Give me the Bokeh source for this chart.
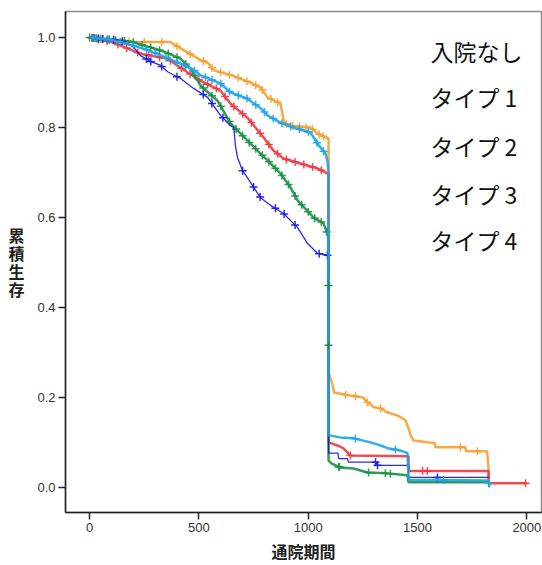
import numpy as np
from bokeh.plotting import figure
from bokeh.models import Range1d, FixedTicker, PrintfTickFormatter, Label
from bokeh.embed import file_html
from bokeh.resources import INLINE

# ---------------- data ----------------
series_names = ["入院なし", "タイプ 1", "タイプ 2", "タイプ 3", "タイプ 4"]

orange_t = [0, 120, 200, 370, 420, 448, 508, 540, 570, 650, 736, 782, 814, 873, 890, 919,
            1010, 1043, 1088, 1093, 1093, 1111, 1118, 1190, 1250, 1271, 1300, 1330, 1360,
            1408, 1445, 1459, 1468, 1482, 1545, 1580, 1582, 1719, 1722, 1818, 1825, 1828]
orange_s = [1.0, 0.995, 0.99, 0.99, 0.975, 0.967, 0.95, 0.944, 0.927, 0.916, 0.9, 0.889,
            0.867, 0.853, 0.811, 0.804, 0.8, 0.787, 0.776, 0.776, 0.255, 0.23, 0.211, 0.204,
            0.2, 0.189, 0.178, 0.176, 0.167, 0.16, 0.149, 0.131, 0.116, 0.104, 0.1, 0.098,
            0.089, 0.089, 0.08, 0.08, 0.04, 0.004]
orange_cens = [30, 60, 110, 150, 180, 250, 330, 400, 460, 520, 560, 600, 640, 680, 720, 760,
               790, 830, 860, 900, 930, 960, 990, 1020, 1050, 1070, 1171, 1216, 1271, 1331,
               1696, 1774]

lblue_t = [0, 100, 180, 250, 330, 360, 416, 470, 508, 599, 645, 722, 790, 814, 873, 932,
           1010, 1043, 1079, 1088, 1093, 1093, 1145, 1207, 1285, 1331, 1363, 1420, 1454,
           1459, 1825, 1828]
lblue_s = [1.0, 0.995, 0.985, 0.975, 0.96, 0.953, 0.942, 0.93, 0.916, 0.898, 0.878, 0.864,
           0.84, 0.827, 0.811, 0.8, 0.789, 0.764, 0.742, 0.727, 0.70, 0.116, 0.111, 0.109,
           0.1, 0.093, 0.087, 0.082, 0.076, 0.017, 0.015, 0.0]
lblue_cens = [20, 50, 90, 140, 200, 260, 300, 350, 400, 440, 480, 530, 560, 600, 640, 680,
              720, 760, 800, 840, 880, 920, 960, 1000, 1040, 1070, 1216, 1399, 1619, 1826]

red_t = [0, 100, 180, 233, 357, 416, 508, 599, 645, 722, 796, 841, 887, 965, 1043, 1088,
         1093, 1093, 1134, 1160, 1193, 1459, 1459, 1825, 1825, 2000]
red_s = [1.0, 0.99, 0.975, 0.964, 0.953, 0.933, 0.904, 0.882, 0.853, 0.822, 0.778, 0.749,
         0.731, 0.72, 0.709, 0.698, 0.695, 0.1, 0.093, 0.087, 0.071, 0.069, 0.036, 0.036,
         0.009, 0.009]
red_cens = [10, 40, 80, 130, 170, 220, 270, 320, 370, 420, 460, 500, 540, 580, 620, 660,
            700, 740, 780, 820, 860, 900, 940, 980, 1020, 1060, 1193, 1523, 1545, 1994]

green_t = [0, 100, 190, 340, 416, 462, 508, 585, 645, 736, 814, 873, 919, 951, 1024, 1070,
           1088, 1093, 1093, 1106, 1148, 1207, 1271, 1363, 1454, 1459, 1825]
green_s = [1.0, 0.995, 0.991, 0.969, 0.953, 0.931, 0.893, 0.86, 0.809, 0.764, 0.727, 0.698,
           0.667, 0.638, 0.6, 0.587, 0.564, 0.56, 0.06, 0.053, 0.044, 0.042, 0.033, 0.031,
           0.027, 0.011, 0.011]
green_cens = [0, 15, 30, 50, 80, 120, 160, 200, 240, 280, 320, 360, 400, 440, 480, 520, 560,
              600, 640, 670, 700, 730, 760, 790, 820, 850, 880, 910, 940, 970, 1000, 1030,
              1060, 1085, 1139, 1143, 1276, 1353, 1376]
green_drop_t = [1093, 1093]
green_drop_s = [0.449, 0.316]

dblue_t = [0, 142, 200, 233, 279, 325, 357, 416, 476, 540, 599, 645, 660, 667, 677, 700,
           736, 782, 828, 887, 951, 997, 1043, 1088, 1093, 1093, 1136, 1139, 1180, 1184,
           1310, 1317, 1459, 1459, 1825]
dblue_s = [1.0, 0.993, 0.98, 0.96, 0.947, 0.938, 0.924, 0.909, 0.887, 0.867, 0.827, 0.804,
           0.8, 0.76, 0.733, 0.704, 0.678, 0.644, 0.627, 0.609, 0.578, 0.542, 0.52, 0.516,
           0.516, 0.076, 0.076, 0.064, 0.064, 0.056, 0.056, 0.049, 0.049, 0.022, 0.022]
dblue_cens = [20, 40, 60, 90, 110, 150, 260, 280, 330, 400, 520, 560, 610, 700, 750, 780,
              850, 890, 940, 1050, 1088, 1308, 1317, 1591]

x_ticks = [0, 500, 1000, 1500, 2000]
y_ticks = [0.0, 0.2, 0.4, 0.6, 0.8, 1.0]
x_title = "通院期間"
y_title = "累積生存"

colors = {"orange": "#F7A030", "lblue": "#1BA3EC", "red": "#EC3A44",
          "green": "#1A9045", "dblue": "#1414E6"}

# ---------------- figure ----------------
p = figure(width=542, height=565, x_range=Range1d(-110, 2067), y_range=Range1d(-0.056, 1.058),
           output_backend="svg", toolbar_location=None,
           min_border_left=65, min_border_right=1, min_border_top=11, min_border_bottom=53)
p.grid.visible = False
p.outline_line_color = "#8a8a8a"
p.outline_line_width = 1.5
p.background_fill_color = "white"
p.border_fill_color = "white"

for ax in (p.xaxis[0], p.yaxis[0]):
    ax.axis_line_color = "#222222"
    ax.axis_line_width = 1.5
    ax.major_tick_line_color = "#222222"
    ax.major_tick_line_width = 1.5
    ax.major_tick_out = 7
    ax.major_tick_in = 0
    ax.minor_tick_line_color = None
    ax.major_label_text_font = "Liberation Sans"
    ax.major_label_text_font_size = "13px"
    ax.major_label_text_color = "#333333"
    ax.major_label_standoff = 3
    ax.axis_label_text_font = "Noto Sans CJK JP"
    ax.axis_label_text_font_style = "bold"
    ax.axis_label_text_color = "#222222"

p.xaxis[0].ticker = FixedTicker(ticks=x_ticks)
p.yaxis[0].ticker = FixedTicker(ticks=y_ticks)
p.yaxis[0].formatter = PrintfTickFormatter(format="%.1f")

p.xaxis[0].axis_label = x_title
p.xaxis[0].axis_label_text_font_size = "16px"
p.xaxis[0].axis_label_standoff = 4

p.yaxis[0].axis_label = "\n".join(y_title)
p.yaxis[0].axis_label_orientation = "horizontal"
p.yaxis[0].axis_label_text_font_size = "16px"
p.yaxis[0].axis_label_text_line_height = 0.76
p.yaxis[0].axis_label_standoff = 10


def censor_y(t, s, c):
    return list(np.interp(c, t, s))


curves = [
    (orange_t, orange_s, orange_cens, colors["orange"], 2.5),
    (red_t, red_s, red_cens, colors["red"], 2.5),
    (green_t, green_s, green_cens, colors["green"], 2.5),
    (dblue_t, dblue_s, dblue_cens, colors["dblue"], 1.3),
    (lblue_t, lblue_s, lblue_cens, colors["lblue"], 2.5),
]
for t, s, c, col, lw in curves:
    p.line(t, s, line_color=col, line_width=lw, line_alpha=0.9)
    p.scatter(c, censor_y(t, s, c), marker="cross", size=8, line_color=col,
              line_width=1.5, line_alpha=0.9)
p.scatter(green_drop_t, green_drop_s, marker="cross", size=8, line_color=colors["green"],
          line_width=1.5)

# legend-like texts
legend_y = [0.971, 0.867, 0.76, 0.653, 0.549]
for name, yy in zip(series_names, legend_y):
    p.add_layout(Label(x=1559, y=yy, text=name, text_font="Noto Sans CJK JP",
                       text_font_size="23px", text_color="#111111",
                       text_align="left", text_baseline="middle"))

open("out.html", "w").write(file_html(p, INLINE))
